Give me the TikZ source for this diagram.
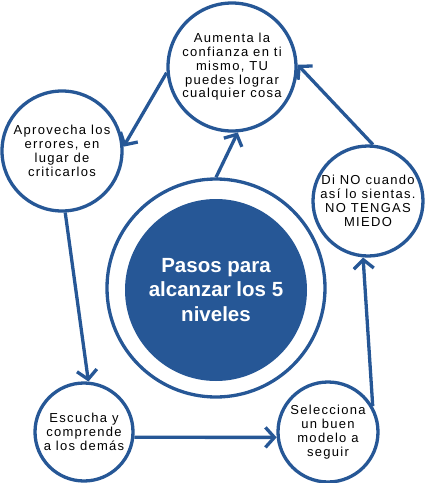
\documentclass[tikz,border=0pt]{standalone}
\usepackage{fontspec}
\setmainfont{Liberation Sans}
\newfontfamily\spaced[LetterSpace=10]{Liberation Sans}
\usetikzlibrary{arrows.meta}
\definecolor{azul}{RGB}{38,87,150}

\begin{document}
\begin{tikzpicture}[x=1pt,y=-1pt,
  paso/.style={circle, draw=azul, line width=3.3pt, fill=white, inner sep=0pt, align=center, font=\spaced\fontsize{13}{13.8}\selectfont},
  flecha/.style={draw=azul, line width=3.3pt, -{Straight Barb[length=9pt,width=20pt]}}]
\useasboundingbox (0,0) rectangle (425,483);

\node[circle, draw=azul, line width=3.3pt, minimum size=218pt] (anillo) at (216,288) {};
\node[circle, fill=azul, minimum size=182pt, inner sep=0pt, align=center, text=white, font=\bfseries\fontsize{20.5}{24.5}\selectfont] (centro) at (216,290) {Pasos para\\alcanzar los 5\\niveles};

\node[paso, minimum size=128pt] (confianza) at (232,67) {Aumenta la\\confianza en ti\\mismo, TU\\puedes lograr\\cualquier cosa};
\node[paso, minimum size=120pt] (errores) at (62,151) {Aprovecha los\\errores, en\\lugar de\\criticarlos};
\node[paso, minimum size=110pt] (miedo) at (368,201) {Di NO cuando\\así lo sientas.\\NO TENGAS\\MIEDO};
\node[paso, minimum size=98pt] (escucha) at (84,432) {Escucha y\\comprende\\a los demás};
\node[paso, minimum size=100pt] (modelo) at (328,432) {Selecciona\\un buen\\modelo a\\seguir};

\draw[flecha] (anillo.90) -- (confianza.-85);
\draw[flecha] (confianza.185) -- (errores.4);
\draw[flecha] (errores.-87) -- (escucha.85);
\draw[flecha] (escucha.-6) -- (modelo.186);
\draw[flecha] (modelo.30) -- (miedo.-95);
\draw[flecha] (miedo.85) -- (confianza.2);
\end{tikzpicture}
\end{document}
